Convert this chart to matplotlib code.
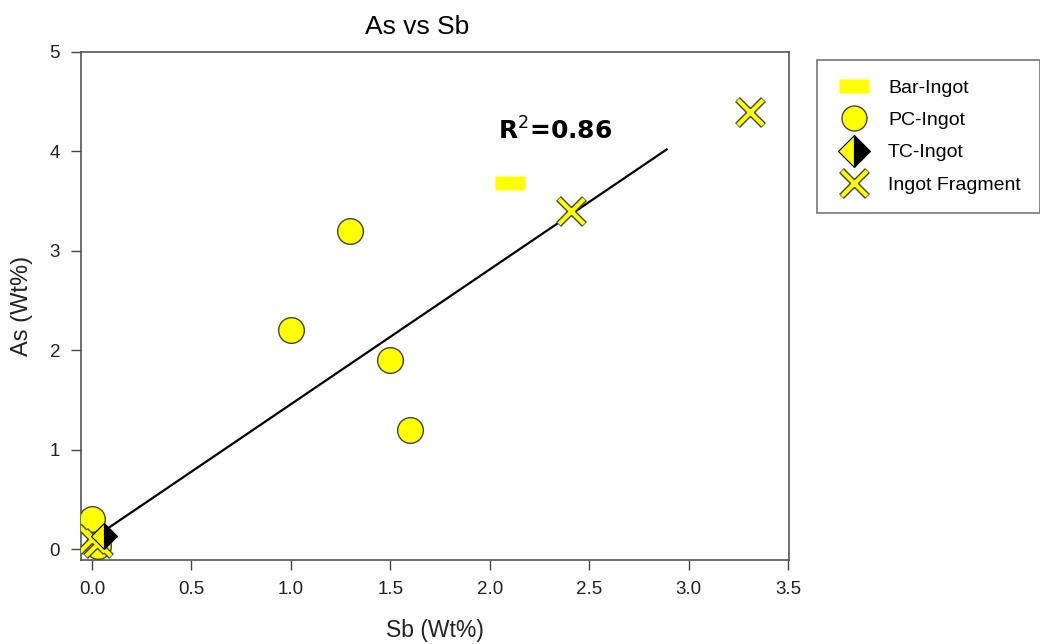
"""As vs Sb scatter with linear fit."""
import matplotlib

matplotlib.use("Agg")
import matplotlib.pyplot as plt
from matplotlib.path import Path
from matplotlib.lines import Line2D

plt.rcParams["font.family"] = ["Liberation Sans", "DejaVu Sans"]

# values
bar_sb = [2.10]
bar_as = [3.68]
pc_sb = [1.0, 1.3, 1.5, 1.6, 0.0, 0.03]
pc_as = [2.2, 3.2, 1.9, 1.2, 0.3, 0.03]
tc_sb = [0.06]
tc_as = [0.13]
frag_sb = [2.41, 3.31, 0.0, 0.03]
frag_as = [3.40, 4.40, 0.10, 0.06]
fit_sb = [0.0, 2.89]
fit_as = [0.10, 4.02]
r2_label = "R$^2$=0.86"

YEL = "#ffff00"
EDGE = "#444444"
bar_marker = Path([(-1, -0.47), (1, -0.47), (1, 0.47), (-1, 0.47), (-1, -0.47)],
                  [Path.MOVETO, Path.LINETO, Path.LINETO, Path.LINETO, Path.CLOSEPOLY])

fig = plt.figure(figsize=(10.4, 6.44), dpi=100)
ax = fig.add_axes([81 / 1040, 1 - 560 / 644, 708 / 1040, 508 / 644])

ax.plot(fit_sb, fit_as, color="black", lw=1.6, zorder=2)
ax.plot(pc_sb, pc_as, ls="none", marker="o", ms=18.5, mfc=YEL, mec=EDGE, mew=1.0, zorder=3)
ax.plot(bar_sb, bar_as, ls="none", marker=bar_marker, ms=21.5, mfc=YEL, mec="none", zorder=3)
ax.plot(frag_sb, frag_as, ls="none", marker="x", ms=19, mec=EDGE, mew=5.0, zorder=4)
ax.plot(frag_sb, frag_as, ls="none", marker="x", ms=18, mec=YEL, mew=3.0, zorder=5)
ax.plot(tc_sb, tc_as, ls="none", marker="D", ms=13, fillstyle="left",
        mfc=YEL, mfcalt="black", mec="black", mew=0.8, zorder=6)

ax.text(2.04, 4.21, r2_label, fontsize=18, fontweight="bold", ha="left", va="center",
        family="DejaVu Sans")

ax.set_xlim(-0.055, 3.505)
ax.set_ylim(-0.11, 5.0)
ax.set_xticks([0.0, 0.5, 1.0, 1.5, 2.0, 2.5, 3.0, 3.5])
ax.set_xticklabels(["0.0", "0.5", "1.0", "1.5", "2.0", "2.5", "3.0", "3.5"])
ax.set_yticks([0, 1, 2, 3, 4, 5])
ax.tick_params(direction="out", length=7, width=1, color="#444444", labelsize=13.5,
               labelcolor="#222222", pad=8)
for s in ax.spines.values():
    s.set_color("#555555")
    s.set_linewidth(1.2)

ax.set_xlabel("Sb (Wt%)", fontsize=16.5, color="#222222", labelpad=15)
ax.set_ylabel("As (Wt%)", fontsize=17, color="#222222", labelpad=12)
fig.text(417 / 1040, 1 - 27 / 644, "As vs Sb", fontsize=19, ha="center", va="center")

handles = [
    Line2D([], [], ls="none", marker=bar_marker, ms=21.5, mfc=YEL, mec="none"),
    Line2D([], [], ls="none", marker="o", ms=18, mfc=YEL, mec=EDGE, mew=1.0),
    Line2D([], [], ls="none", marker="D", ms=16, fillstyle="left", mfc=YEL,
           mfcalt="black", mec="black", mew=0.8),
    (Line2D([], [], ls="none", marker="x", ms=19, mec=EDGE, mew=5.0),
     Line2D([], [], ls="none", marker="x", ms=18, mec=YEL, mew=3.0)),
]
labels = ["Bar-Ingot", "PC-Ingot", "TC-Ingot", "Ingot Fragment"]
leg = fig.legend(handles, labels, loc="upper left", bbox_to_anchor=(817 / 1040, 1 - 60 / 644),
                 fontsize=14, frameon=True, fancybox=False, edgecolor="#555555",
                 handlelength=1.8, handletextpad=0.85, labelspacing=0.75,
                 borderpad=1.0, borderaxespad=0)
leg.get_frame().set_linewidth(1.2)

fig.savefig("out.png", dpi=100)
